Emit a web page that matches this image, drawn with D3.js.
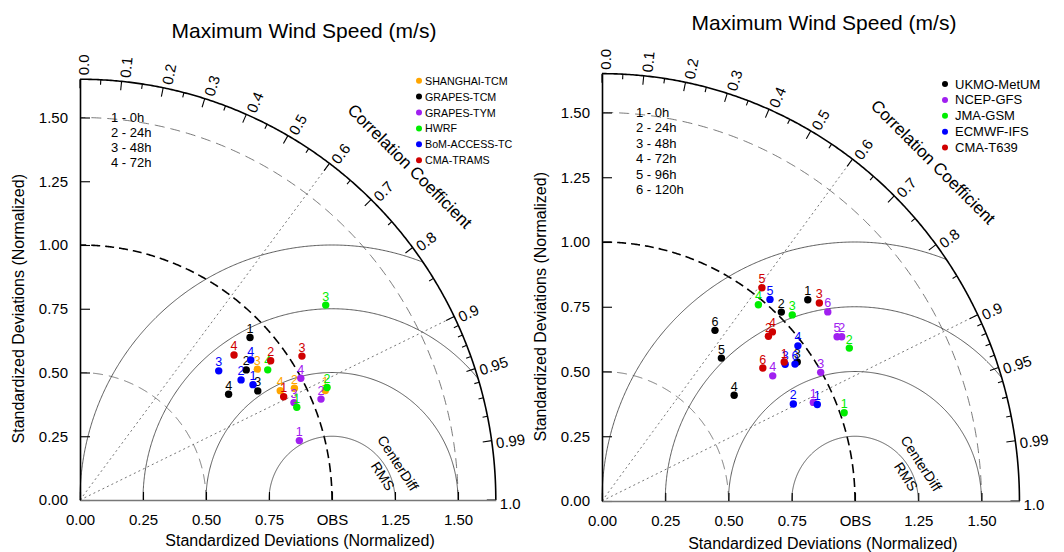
<!DOCTYPE html>
<html>
<head>
<meta charset="utf-8">
<script src="https://cdn.jsdelivr.net/npm/d3@7"></script>
<style>
body { margin: 0; background: #fff; }
svg text { font-family: "Liberation Sans", Arial, Helvetica, sans-serif; }
</style>
</head>
<body>
<svg id="chart" width="1064" height="552"></svg>
<script>
// ---- left panel: typhoon models (std ratio / correlation per lead time)
var leadLeft = ["1 - 0h", "2 - 24h", "3 - 48h", "4 - 72h"];
var modelsLeft = ["SHANGHAI-TCM", "GRAPES-TCM", "GRAPES-TYM", "HWRF", "BoM-ACCESS-TC", "CMA-TRAMS"];
var colorsLeft = ["#FFA500", "#000000", "#A020F0", "#00EE00", "#0000FF", "#D00000"];
var stdLeft = [
  [1.064, 0.957, 0.871, 0.903],
  [0.928, 0.834, 0.825, 0.721],
  [0.901, 1.035, 0.931, 0.998],
  [0.934, 1.075, 1.239, 0.903],
  [0.822, 0.794, 0.748, 0.872],
  [0.904, 0.933, 1.046, 0.835]
];
var corrLeft = [
  [0.915, 0.889, 0.808, 0.880],
  [0.727, 0.791, 0.855, 0.818],
  [0.966, 0.924, 0.912, 0.878],
  [0.921, 0.912, 0.787, 0.825],
  [0.835, 0.805, 0.736, 0.777],
  [0.894, 0.811, 0.842, 0.732]
];

// ---- right panel: global models
var leadRight = ["1 - 0h", "2 - 24h", "3 - 48h", "4 - 72h", "5 - 96h", "6 - 120h"];
var modelsRight = ["UKMO-MetUM", "NCEP-GFS", "JMA-GSM", "ECMWF-IFS", "CMA-T639"];
var colorsRight = ["#000000", "#A020F0", "#00EE00", "#0000FF", "#D00000"];
var stdRight = [
  [1.125, 1.017, 0.940, 0.663, 0.726, 0.796],
  [0.918, 1.140, 0.997, 0.830, 1.125, 1.153],
  [1.016, 1.142, 1.040, 0.978],
  [0.929, 0.844, 0.896, 0.979, 1.023, 0.928],
  [0.898, 0.915, 1.150, 0.938, 1.038, 0.817]
];
var corrRight = [
  [0.723, 0.697, 0.821, 0.788, 0.650, 0.561],
  [0.910, 0.831, 0.867, 0.813, 0.826, 0.774],
  [0.942, 0.856, 0.723, 0.632],
  [0.916, 0.896, 0.808, 0.791, 0.649, 0.822],
  [0.802, 0.719, 0.747, 0.718, 0.609, 0.778]
];

// ---- diagram frame
var maxStd = 1.65;
var stdTicks = [0, 0.25, 0.5, 0.75, 1, 1.25, 1.5];
var corrMajor = [0, 0.1, 0.2, 0.3, 0.4, 0.5, 0.6, 0.7, 0.8, 0.9, 0.95, 0.99, 1];
var corrMinor = [0.05, 0.15, 0.25, 0.35, 0.45, 0.55, 0.65, 0.75, 0.85, 0.91, 0.92, 0.93, 0.94, 0.96, 0.97, 0.98];
var rmsRadii = [0.25, 0.5, 0.75, 1];
var stdArcs = [0.5, 1, 1.5];
var corrLines = [0.6, 0.9];
var titleText = "Maximum Wind Speed (m/s)";
var axisTitle = "Standardized Deviations (Normalized)";

var svg = d3.select("#chart");
svg.append("rect").attr("width", 1064).attr("height", 552).attr("fill", "#fff");

var panels = [
  {ox: 80, oy: 500, kx: 252, ky: 255, models: modelsLeft, colors: colorsLeft, std: stdLeft, corr: corrLeft,
   leads: leadLeft, titleX: 304, titleY: 37.5, legX: 419, legY: 80.7, legFont: 10.7, legDx: 6,
   leadX: 111, leadY: 121.5, leadStep: 15, xTitleY: 546, yTitleX: 18},
  {ox: 602, oy: 501, kx: 253, ky: 259, models: modelsRight, colors: colorsRight, std: stdRight, corr: corrRight,
   leads: leadRight, titleX: 824, titleY: 30, legX: 945, legY: 84, legFont: 13, legDx: 10,
   leadX: 636, leadY: 117, leadStep: 15.4, xTitleY: 549, yTitleX: 540}
];

function drawPanel(p) {
  var g = svg.append("g");
  var x = d3.scaleLinear().domain([0, maxStd]).range([p.ox, p.ox + maxStd * p.kx]);
  var y = d3.scaleLinear().domain([0, maxStd]).range([p.oy, p.oy - maxStd * p.ky]);
  var line = d3.line().x(function(d) { return x(d[0]); }).y(function(d) { return y(d[1]); });
  function polar(r, c) { var a = Math.acos(c); return [r * Math.cos(a), r * Math.sin(a)]; }
  function quarter(r) {
    return d3.range(0, 90.25, 0.25).map(function(t) {
      var a = t * Math.PI / 180; return [r * Math.cos(a), r * Math.sin(a)];
    });
  }

  // arcs of constant std around the origin
  stdArcs.forEach(function(r) {
    g.append("path").attr("d", line(quarter(r)))
      .attr("fill", "none")
      .attr("stroke", r == 1 ? "#000" : "#555")
      .attr("stroke-width", r == 1 ? 1.6 : 0.8)
      .attr("stroke-dasharray", r == 1 ? "9,5" : "10,6");
  });

  // centered RMS circles around OBS, clipped by the outer arc
  rmsRadii.forEach(function(R) {
    var c0 = (maxStd * maxStd - 1 - R * R) / (2 * R);
    var a0 = c0 >= 1 ? 0 : Math.acos(c0);
    var pts = d3.range(0, 361).map(function(i) {
      var a = a0 + (Math.PI - a0) * i / 360; return [1 + R * Math.cos(a), R * Math.sin(a)];
    });
    g.append("path").attr("d", line(pts))
      .attr("fill", "none").attr("stroke", "#333").attr("stroke-width", 0.8);
  });

  // dotted correlation rays
  corrLines.forEach(function(c) {
    g.append("path").attr("d", line([[0, 0], polar(maxStd, c)]))
      .attr("fill", "none").attr("stroke", "#666").attr("stroke-width", 0.9)
      .attr("stroke-dasharray", "2,3");
  });

  // outer correlation arc
  g.append("path").attr("d", line(quarter(maxStd)))
    .attr("fill", "none").attr("stroke", "#000").attr("stroke-width", 1.6);

  function onArc(c) {
    var P = polar(maxStd, c), px = x(P[0]), py = y(P[1]);
    var dx = px - p.ox, dy = py - p.oy, L = Math.hypot(dx, dy);
    return {x: px, y: py, ux: dx / L, uy: dy / L};
  }
  corrMajor.concat(corrMinor).forEach(function(c) {
    var t = onArc(c), len = corrMajor.indexOf(c) >= 0 ? 9 : 5;
    g.append("line")
      .attr("x1", t.x).attr("y1", t.y)
      .attr("x2", t.x - t.ux * len).attr("y2", t.y - t.uy * len)
      .attr("stroke", "#000").attr("stroke-width", 1.1);
  });
  corrMajor.forEach(function(c) {
    var t = onArc(c);
    var deg = Math.atan2(t.uy, t.ux) * 180 / Math.PI;
    g.append("text")
      .attr("transform", "translate(" + (t.x + t.ux * 4) + "," + (t.y + t.uy * 4) + ") rotate(" + deg + ")")
      .attr("dy", 3)
      .attr("dominant-baseline", "central")
      .attr("font-size", 15)
      .text(c == 0 || c == 1 ? c.toFixed(1) : String(c));
  });

  var cc = polar(1.85, Math.cos(Math.PI / 4));
  g.append("text")
    .attr("transform", "translate(" + x(cc[0]) + "," + y(cc[1]) + ") rotate(45)")
    .attr("text-anchor", "middle").attr("dominant-baseline", "central")
    .attr("font-size", 17).text("Correlation Coefficient");

  g.append("text")
    .attr("transform", "translate(" + x(1.262) + "," + y(0.145) + ") rotate(57)")
    .attr("text-anchor", "middle").attr("dominant-baseline", "central")
    .attr("font-size", 14).text("CenterDiff");
  g.append("text")
    .attr("transform", "translate(" + x(1.202) + "," + y(0.094) + ") rotate(57)")
    .attr("text-anchor", "middle").attr("dominant-baseline", "central")
    .attr("font-size", 14).text("RMS");

  // axes
  var yAxis = g.append("g").attr("transform", "translate(" + p.ox + ",0)")
    .call(d3.axisLeft(y).tickValues(stdTicks).tickFormat(d3.format(".2f"))
      .tickSizeInner(-10).tickSizeOuter(0).tickPadding(12));
  var xAxis = g.append("g").attr("transform", "translate(0," + p.oy + ")")
    .call(d3.axisBottom(x).tickValues(stdTicks)
      .tickFormat(function(d) { return d === 1 ? "OBS" : d3.format(".2f")(d); })
      .tickSizeInner(-8).tickSizeOuter(0).tickPadding(14));
  [yAxis, xAxis].forEach(function(a) {
    a.selectAll("text").attr("font-size", 15).attr("font-family", null).attr("fill", "#000");
    a.selectAll(".tick line").attr("stroke", "#000").attr("stroke-width", 1.1);
    a.attr("font-family", null);
  });
  yAxis.select(".domain").attr("stroke", "#000").attr("stroke-width", 1.6);
  xAxis.select(".domain").attr("stroke", "#777").attr("stroke-width", 1.6);

  g.append("text").attr("x", x(0.873)).attr("y", p.xTitleY)
    .attr("text-anchor", "middle").attr("font-size", 16).text(axisTitle);
  g.append("text")
    .attr("transform", "translate(" + p.yTitleX + "," + y(0.75) + ") rotate(-90)")
    .attr("text-anchor", "middle").attr("dominant-baseline", "central")
    .attr("font-size", 16).text(axisTitle);

  g.append("text").attr("x", p.titleX).attr("y", p.titleY)
    .attr("text-anchor", "middle").attr("font-size", 21).text(titleText);

  // lead time key
  g.selectAll(".lead").data(p.leads).enter().append("text")
    .attr("x", p.leadX).attr("y", function(d, i) { return p.leadY + i * p.leadStep; })
    .attr("font-size", 13).text(function(d) { return d; });

  // model legend
  p.models.forEach(function(m, i) {
    var cy = p.legY + i * 15.9;
    g.append("circle").attr("cx", p.legX).attr("cy", cy).attr("r", 3).attr("fill", p.colors[i]);
    g.append("text").attr("x", p.legX + p.legDx).attr("y", cy)
      .attr("dominant-baseline", "central").attr("font-size", p.legFont).text(m);
  });

  // model points
  p.models.forEach(function(m, i) {
    p.std[i].forEach(function(s, j) {
      var P = polar(s, p.corr[i][j]);
      g.append("circle").attr("cx", x(P[0])).attr("cy", y(P[1])).attr("r", 3.7).attr("fill", p.colors[i]);
      g.append("text").attr("x", x(P[0])).attr("y", y(P[1]) - 4.5)
        .attr("text-anchor", "middle").attr("font-size", 12.5).attr("fill", p.colors[i])
        .text(j + 1);
    });
  });
}

panels.forEach(drawPanel);
</script>
</body>
</html>
